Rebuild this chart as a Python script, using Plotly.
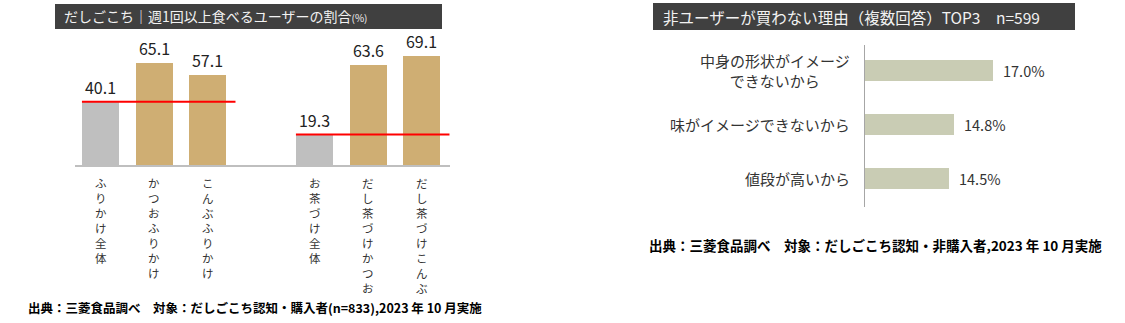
import plotly.graph_objects as go

# ---- data ----
left_categories = ["ふりかけ全体", "かつおふりかけ", "こんぶふりかけ", "お茶づけ全体", "だし茶づけかつお", "だし茶づけこんぶ"]
left_groups = [0, 0, 0, 1, 1, 1]
left_values = [40.1, 65.1, 57.1, 19.3, 63.6, 69.1]
left_is_total = [True, False, False, True, False, False]

right_categories = ["中身の形状がイメージ<br>できないから", "味がイメージできないから", "値段が高いから"]
right_values = [17.0, 14.8, 14.5]

left_title = "だしごこち｜週1回以上食べるユーザーの割合<span style='font-size:10px'>(%)</span>"
right_title = "非ユーザーが買わない理由（複数回答）TOP3　n=599"
left_note = "出典：三菱食品調べ　対象：だしごこち認知・購入者(n=833),2023 年 10 月実施"
right_note = "出典：三菱食品調べ　対象：だしごこち認知・非購入者,2023 年 10 月実施"

W, H = 1125, 323
FONT = "Noto Sans CJK JP"
GRAY = "#bfbfbf"
GOLD = "#cfae73"
GREEN = "#c9ccb4"

def px_x(p):
    return p / W

def px_y(p):
    return (H - p) / H

fig = go.Figure()

# left bars
pos = [i + g for i, g in enumerate(left_groups)]
colors = [GRAY if t else GOLD for t in left_is_total]
fig.add_trace(go.Bar(
    x=pos, y=left_values, width=0.69, marker=dict(color=colors, line=dict(width=0)),
    text=[f"{v:.1f}" for v in left_values], textposition="outside",
    textfont=dict(family=FONT, size=16, color="#222222"), cliponaxis=False,
    xaxis="x", yaxis="y", showlegend=False, hoverinfo="skip"))

# red reference lines at each group's total value
for g in sorted(set(left_groups)):
    idx = [i for i, gg in enumerate(left_groups) if gg == g]
    tot = [left_values[i] for i in idx if left_is_total[i]][0]
    x0 = pos[idx[0]] - 0.35
    x1 = pos[idx[-1]] + 0.52
    fig.add_trace(go.Scatter(x=[x0, x1], y=[tot, tot], mode="lines",
                             line=dict(color="#ff0000", width=2),
                             xaxis="x", yaxis="y", showlegend=False, hoverinfo="skip"))

# right bars
fig.add_trace(go.Bar(
    y=right_categories, x=right_values, orientation="h", width=0.39,
    marker=dict(color=GREEN, line=dict(width=0)),
    xaxis="x2", yaxis="y2", showlegend=False, hoverinfo="skip"))

annotations = []
# vertical category labels (one character per line, stacked)
for p, lab in zip(pos, left_categories):
    annotations.append(dict(x=p, y=0, xref="x", yref="y", text="<br>".join(lab), showarrow=False,
                            yanchor="top", xanchor="center", align="center", yshift=-8,
                            font=dict(family=FONT, size=11.5, color="#333333")))

X2_MIN = 9.77
for c, v in zip(right_categories, right_values):
    annotations.append(dict(x=X2_MIN, y=c, xref="x2", yref="y2", text=c, showarrow=False,
                            xanchor="right", align="center", xshift=-13,
                            font=dict(family=FONT, size=15, color="#333333")))
    annotations.append(dict(x=v, y=c, xref="x2", yref="y2", text=f"{v:.1f}%", showarrow=False,
                            xanchor="left", xshift=8,
                            font=dict(family=FONT, size=14.5, color="#333333")))

# titles
annotations.append(dict(x=px_x(62), y=px_y(16), xref="paper", yref="paper", text=left_title,
                        showarrow=False, xanchor="left", yanchor="middle",
                        font=dict(family=FONT, size=14, color="#f2f2f2")))
annotations.append(dict(x=px_x(661), y=px_y(16.5), xref="paper", yref="paper", text=right_title,
                        showarrow=False, xanchor="left", yanchor="middle",
                        font=dict(family=FONT, size=15.5, color="#f2f2f2")))
# notes
annotations.append(dict(x=px_x(26), y=px_y(307), xref="paper", yref="paper",
                        text=f"<b>{left_note}</b>", showarrow=False, xanchor="left", yanchor="middle",
                        font=dict(family=FONT, size=12.5, color="#000000")))
annotations.append(dict(x=px_x(647), y=px_y(245), xref="paper", yref="paper",
                        text=f"<b>{right_note}</b>", showarrow=False, xanchor="left", yanchor="middle",
                        font=dict(family=FONT, size=13.5, color="#000000")))

shapes = [
    dict(type="rect", xref="paper", yref="paper", x0=px_x(55), x1=px_x(442), y0=px_y(29), y1=px_y(4),
         fillcolor="#404040", line=dict(width=0), layer="below"),
    dict(type="rect", xref="paper", yref="paper", x0=px_x(653), x1=px_x(1075), y0=px_y(30), y1=px_y(3),
         fillcolor="#404040", line=dict(width=0), layer="below"),
]

fig.update_layout(
    width=W, height=H, margin=dict(l=0, r=0, t=0, b=0),
    paper_bgcolor="white", plot_bgcolor="white",
    bargap=0,
    xaxis=dict(domain=[px_x(75), px_x(450)], range=[-0.48, 6.53], showgrid=False, zeroline=False,
               showticklabels=False, ticks="", showline=True, linecolor="#bfbfbf", linewidth=1.5,
               anchor="y", fixedrange=True),
    yaxis=dict(domain=[px_y(165), px_y(40)], range=[0, 79.4], showgrid=False, zeroline=False,
               showticklabels=False, ticks="", showline=False, anchor="x"),
    xaxis2=dict(domain=[px_x(865), px_x(1100)], range=[X2_MIN, 23.05], showgrid=False, zeroline=False,
                showticklabels=False, ticks="", showline=False, anchor="y2"),
    yaxis2=dict(domain=[px_y(207), px_y(45)], type="category", categoryarray=right_categories,
                range=[2.52, -0.48], showgrid=False, zeroline=False, showticklabels=False, ticks="",
                showline=True, linecolor="#a6a6a6", linewidth=1, anchor="x2"),
    annotations=annotations, shapes=shapes,
    font=dict(family=FONT),
)

fig.write_html("out.html")
